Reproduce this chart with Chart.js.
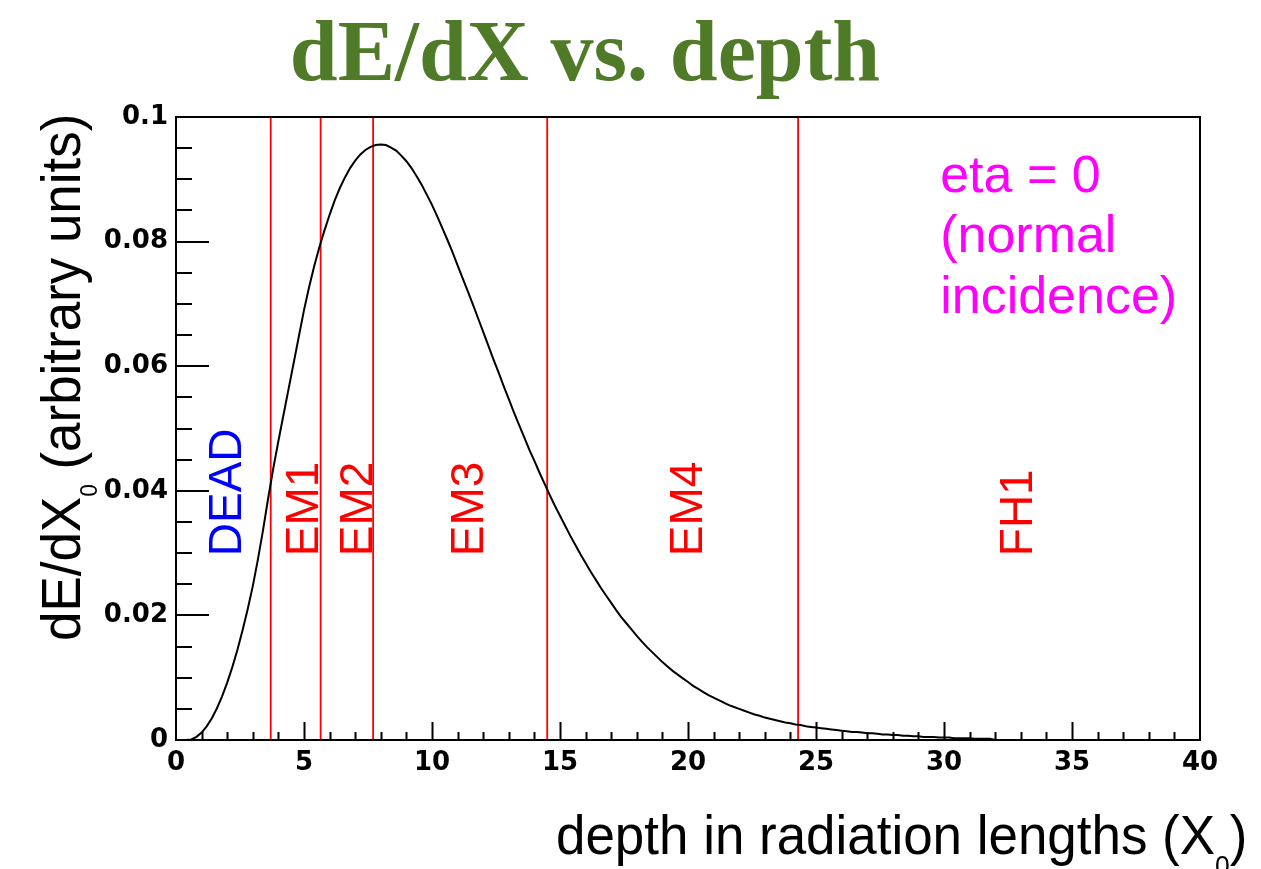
<!DOCTYPE html>
<html>
<head>
<meta charset="utf-8">
<title>dE/dX vs. depth</title>
<script src="https://cdn.jsdelivr.net/npm/chart.js@4.4.1/dist/chart.umd.min.js"></script>
<style>
  html, body { margin: 0; padding: 0; background: #ffffff; }
  #wrap { width: 1261px; height: 869px; }
</style>
</head>
<body>
<div id="wrap"><canvas id="c" width="1261" height="869"></canvas></div>
<script>
// Longitudinal shower profile, histogram binned in radiation lengths
const depthStart = 0;
const binWidth = 0.2;
const energyDeposit = [
  0, 0, 0, 0.0001, 0.0005, 0.0012, 0.0022, 0.0035, 0.0051, 0.0070,
  0.0092, 0.0117, 0.0145, 0.0176, 0.0210, 0.0247, 0.0290, 0.0337, 0.0388, 0.0436,
  0.0480, 0.0522, 0.0564, 0.0606, 0.0648, 0.0690, 0.0727, 0.0761, 0.0791, 0.0818,
  0.0843, 0.0866, 0.0886, 0.0903, 0.0918, 0.0930, 0.0940, 0.0947, 0.0952, 0.0955,
  0.0956, 0.0955, 0.0951, 0.0946, 0.0938, 0.0929, 0.0918, 0.0905, 0.0891, 0.0875,
  0.0859, 0.0841, 0.0822, 0.0803, 0.0783, 0.0762, 0.0741, 0.0720, 0.0699, 0.0677,
  0.0655, 0.0633, 0.0611, 0.0590, 0.0568, 0.0547, 0.0526, 0.0506, 0.0486, 0.0466,
  0.0448, 0.0429, 0.0411, 0.0393, 0.0376, 0.0360, 0.0344, 0.0328, 0.0313, 0.0298,
  0.0284, 0.0270, 0.0257, 0.0244, 0.0232, 0.0220, 0.0208, 0.0197, 0.0187, 0.0177,
  0.0167, 0.0158, 0.0149, 0.0141, 0.0133, 0.0125, 0.0118, 0.0111, 0.0105, 0.0099,
  0.0093, 0.0087, 0.0082, 0.0077, 0.0072, 0.0068, 0.0064, 0.0060, 0.0056, 0.0053,
  0.0050, 0.0047, 0.0044, 0.0041, 0.0039, 0.0036, 0.0034, 0.0032, 0.0030, 0.0028,
  0.0027, 0.0025, 0.0024, 0.0022, 0.0021, 0.0020, 0.0019, 0.0018, 0.0017, 0.0016,
  0.0015, 0.0014, 0.0013, 0.0013, 0.0012, 0.0011, 0.0011, 0.0010, 0.0009, 0.0009,
  0.0008, 0.0008, 0.0007, 0.0007, 0.0006, 0.0006, 0.0005, 0.0005, 0.0005, 0.0004,
  0.0004, 0.0004, 0.0003, 0.0003, 0.0003, 0.0003, 0.0002, 0.0002, 0.0002, 0.0002,
  0
];

// Calorimeter layer boundaries (in X0) and the layer names between them
const layerBoundaries = [3.7, 5.65, 7.7, 14.5, 24.3];
const layerNames = ['DEAD', 'EM1', 'EM2', 'EM3', 'EM4', 'FH1'];
const layerLabelDepth = [1.9, 4.9, 7.03, 11.36, 19.92, 32.81];

const xTickValues = [0, 5, 10, 15, 20, 25, 30, 35, 40];
const xTickLabels = ['0', '5', '10', '15', '20', '25', '30', '35', '40'];
const yTickValues = [0, 0.02, 0.04, 0.06, 0.08, 0.1];
const yTickLabels = ['0', '0.02', '0.04', '0.06', '0.08', '0.1'];

const noteLines = ['eta = 0', '(normal', 'incidence)'];

// ---- styling ----
const SANS = '"Liberation Sans", Arial, Helvetica, sans-serif';
const RED = '#ff0000';
const BLUE = '#0000ff';
const MAGENTA = '#ff00ff';
const TITLE_GREEN = '#4f7a28';

const profilePoints = energyDeposit.map((v, i) => ({ x: depthStart + i * binWidth, y: v }));

const boundaryDatasets = layerBoundaries.map(b => ({
  data: [{ x: b, y: 0 }, { x: b, y: 0.1 }],
  borderColor: RED,
  borderWidth: 1.8,
  pointRadius: 0,
  fill: false,
  tension: 0
}));

function drawRotated(ctx, x, y, pieces, squeeze) {
  // pieces: [{text, font, dy}] drawn one after another along the rotated baseline
  ctx.save();
  ctx.translate(x, y);
  ctx.rotate(-Math.PI / 2);
  ctx.scale(squeeze, 1);
  ctx.textAlign = 'left';
  ctx.textBaseline = 'alphabetic';
  let u = 0;
  for (const p of pieces) {
    ctx.font = p.font;
    ctx.fillStyle = p.color || '#000';
    ctx.fillText(p.text, u, p.dy || 0);
    u += ctx.measureText(p.text).width;
  }
  ctx.restore();
}

function drawRun(ctx, x, y, pieces, squeeze) {
  ctx.save();
  ctx.translate(x, y);
  ctx.scale(squeeze, 1);
  ctx.textAlign = 'left';
  ctx.textBaseline = 'alphabetic';
  let u = 0;
  for (const p of pieces) {
    ctx.font = p.font;
    ctx.fillStyle = p.color || '#000';
    ctx.fillText(p.text, u, p.dy || 0);
    u += ctx.measureText(p.text).width;
  }
  ctx.restore();
}

const decorations = {
  id: 'decorations',
  afterDraw(chart) {
    const { ctx, chartArea: a, scales } = chart;
    const xs = scales.x, ys = scales.y;

    // frame
    ctx.save();
    ctx.strokeStyle = '#000';
    ctx.lineWidth = 2;
    ctx.strokeRect(a.left, a.top, a.right - a.left, a.bottom - a.top);

    // inward tick marks
    ctx.lineWidth = 2;
    ctx.beginPath();
    for (let i = 0; i <= 20; i++) {
      const v = i * 0.005;
      const py = Math.round(ys.getPixelForValue(v));
      if (py <= a.top + 1 || py >= a.bottom - 1) continue;
      const len = (i % 4 === 0) ? 33 : 16;
      ctx.moveTo(a.left, py);
      ctx.lineTo(a.left + len, py);
    }
    for (let i = 1; i < 40; i++) {
      const px = Math.round(xs.getPixelForValue(i)) + 0.5;
      const len = (i % 5 === 0) ? 18 : 8;
      ctx.moveTo(px, a.bottom);
      ctx.lineTo(px, a.bottom - len);
    }
    ctx.stroke();
    ctx.restore();

    // title
    ctx.save();
    ctx.font = 'bold 86px "Liberation Serif", "Times New Roman", Times, serif';
    ctx.fillStyle = TITLE_GREEN;
    ctx.textAlign = 'center';
    ctx.textBaseline = 'alphabetic';
    ctx.fillText('dE/dX vs. depth', 585, 80);
    ctx.restore();

    // y axis title
    drawRotated(ctx, 80, 641, [
      { text: 'dE/dX', font: '56px ' + SANS },
      { text: '0', font: '24px ' + SANS, dy: 17 },
      { text: ' (arbitrary units)', font: '56px ' + SANS }
    ], 0.945);

    // x axis title
    drawRun(ctx, 556, 854, [
      { text: 'depth in radiation lengths (X', font: '56px ' + SANS },
      { text: '0', font: '28px ' + SANS, dy: 21 },
      { text: ')', font: '56px ' + SANS }
    ], 0.945);

    // layer names
    const labelY = ys.getPixelForValue(0.0295);
    layerNames.forEach((name, i) => {
      const cx = xs.getPixelForValue(layerLabelDepth[i]);
      drawRotated(ctx, cx + 16.5, labelY, [
        { text: name, font: '46px ' + SANS, color: i === 0 ? BLUE : RED }
      ], 1);
    });

    // incidence note
    ctx.save();
    ctx.font = '52px ' + SANS;
    ctx.fillStyle = MAGENTA;
    ctx.textAlign = 'left';
    ctx.textBaseline = 'alphabetic';
    const nx = xs.getPixelForValue(29.85);
    const ny = ys.getPixelForValue(0.088);
    noteLines.forEach((t, i) => ctx.fillText(t, nx, ny + i * 60.5));
    ctx.restore();
  }
};

const tickFont = { family: '"DejaVu Sans", Verdana, sans-serif', weight: 'bold', size: 26 };

new Chart(document.getElementById('c'), {
  type: 'line',
  data: {
    datasets: [{
      data: profilePoints,
      borderColor: '#000',
      borderWidth: 2,
      pointRadius: 0,
      fill: false,
      tension: 0
    }, ...boundaryDatasets]
  },
  options: {
    responsive: false,
    animation: false,
    events: [],
    layout: { padding: { left: 0, right: 61, top: 117, bottom: 0 } },
    plugins: {
      legend: { display: false },
      tooltip: { enabled: false },
      title: { display: false }
    },
    scales: {
      x: {
        type: 'linear',
        min: 0,
        max: 40,
        afterBuildTicks: s => { s.ticks = xTickValues.map(v => ({ value: v })); },
        afterFit: s => { s.height = 129; },
        ticks: {
          font: tickFont,
          color: '#000',
          padding: 8,
          maxRotation: 0,
          autoSkip: false,
          callback: (v, i) => xTickLabels[i]
        },
        grid: { display: false, drawTicks: false },
        border: { display: false }
      },
      y: {
        type: 'linear',
        min: 0,
        max: 0.1,
        afterBuildTicks: s => { s.ticks = yTickValues.map(v => ({ value: v })); },
        afterFit: s => { s.width = 176; },
        ticks: {
          font: tickFont,
          color: '#000',
          padding: 8,
          autoSkip: false,
          callback: (v, i) => yTickLabels[i]
        },
        grid: { display: false, drawTicks: false },
        border: { display: false }
      }
    }
  },
  plugins: [decorations]
});
</script>
</body>
</html>
